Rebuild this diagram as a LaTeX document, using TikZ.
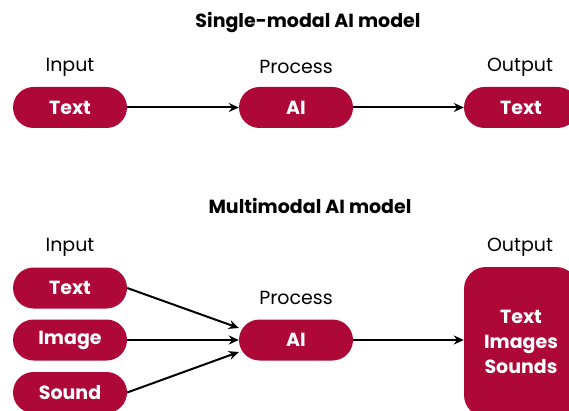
\documentclass[tikz,border=0pt]{standalone}
\usepackage{fontspec}
\setmainfont{Poppins}
\usetikzlibrary{arrows.meta}
\definecolor{crimson}{RGB}{174,8,56}
\tikzset{
	pill/.style={fill=crimson, text=white, rounded corners=20.5pt, minimum width=114pt, minimum height=41pt, font=\fontsize{19}{23}\selectfont\bfseries, inner sep=0pt},
	lbl/.style={font=\fontsize{19}{23}\selectfont},
	ttl/.style={font=\fontsize{19}{23}\selectfont\bfseries},
	conn/.style={line width=2pt, -{Stealth[length=10pt, width=9pt]}}
}
\begin{document}
\begin{tikzpicture}[x=1pt, y=-1pt]
			%%%%% START %%%%%
			\useasboundingbox (0, 0) rectangle (569, 411);
			
			% single-modal
			\node[ttl] (ttlA) at (308, 23) {Single-modal AI model};
			\node[lbl] (inA) at (70, 67) {Input};
			\node[lbl] (procA) at (296, 67) {Process};
			\node[lbl] (outA) at (520, 67) {Output};
			
			\node[pill] (textA) at (70, 107.5) {Text};
			\node[pill] (aiA) at (296, 107.5) {AI};
			\node[pill] (resA) at (521, 107.5) {Text};
			
			\draw[conn] (textA) -- (aiA);
			\draw[conn] (aiA) -- (resA);
			
			% multimodal
			\node[ttl] (ttlB) at (310, 206) {Multimodal AI model};
			\node[lbl] (inB) at (70, 247) {Input};
			\node[lbl] (procB) at (296, 298) {Process};
			\node[lbl] (outB) at (520, 247) {Output};
			
			\node[pill] (textB) at (70, 288) {Text};
			\node[pill] (imgB) at (70, 340) {Image};
			\node[pill] (sndB) at (70, 392.5) {Sound};
			\node[pill] (aiB) at (296, 340) {AI};
			\node[pill, minimum height=150pt, rounded corners=22pt, align=center, font=\fontsize{19}{25}\selectfont\bfseries] (resB) at (521, 342) {Text\\Images\\Sounds};
			
			\coordinate (aiTop) at ([yshift=12pt]aiB.west);
			\coordinate (aiBot) at ([yshift=-12pt]aiB.west);
			\draw[conn] (textB.east) -- (aiTop);
			\draw[conn] (imgB) -- (aiB);
			\draw[conn] (sndB.east) -- (aiBot);
			\draw[conn] (aiB) -- (resB.west |- aiB);
			%%%%% END %%%%%
\end{tikzpicture}
\end{document}
